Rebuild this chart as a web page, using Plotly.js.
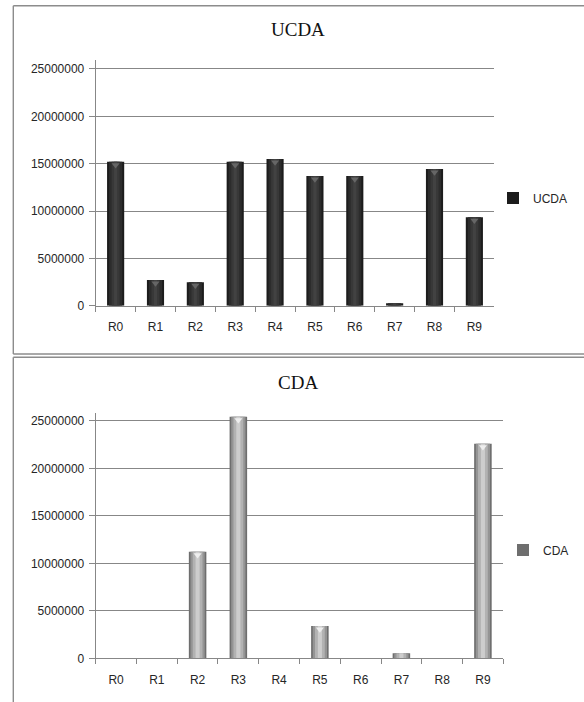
<!DOCTYPE html>
<html>
<head>
<meta charset="utf-8">
<script src="https://cdn.plot.ly/plotly-3.0.1.min.js"></script>
<style>
  html, body { margin: 0; padding: 0; background: #ffffff; }
  #chart { width: 584px; height: 702px; }
</style>
</head>
<body>
<div id="chart"></div>
<script>
// Runs R0..R9
const categories = ["R0", "R1", "R2", "R3", "R4", "R5", "R6", "R7", "R8", "R9"];
const ucdaValues = [15200000, 2710000, 2470000, 15200000, 15500000, 13700000, 13700000, 250000, 14440000, 9330000];
const cdaValues = [0, 0, 11230000, 25450000, 0, 3400000, 0, 530000, 0, 22600000];
const yTickValues = [0, 5000000, 10000000, 15000000, 20000000, 25000000];

const W = 584, H = 702;
const px = v => v / W;          // horizontal pixel -> paper
const py = v => 1 - v / H;      // vertical pixel -> paper

const gridGray = "#878787";
const sansFont = "Liberation Sans, Arial, sans-serif";
const serifFont = "Liberation Serif, Times New Roman, serif";

// plot-area geometry (pixels) and y ranges
const topArea = { left: 95.7, right: 494.3, bottom: 305.7, top: 60, ymax: 25950000 };
const botArea = { left: 95.7, right: 503.3, bottom: 658.3, top: 412.7, ymax: 25870000 };

// Cylinder-like shading: a wide base bar with narrower, lighter bars on top.
function shadedBars(name, values, xa, ya, legendId, shades) {
  return shades.map((s, i) => ({
    type: "bar",
    name: name,
    x: categories,
    y: values,
    xaxis: xa,
    yaxis: ya,
    width: s.width,
    marker: { color: s.color, line: { width: 0 } },
    showlegend: i === 0,
    legend: legendId,
    hoverinfo: "skip"
  }));
}

// Small bevel triangle just inside the top of each bar.
function bevelCaps(values, xa, ya, area, color) {
  const unitsPerPx = area.ymax / (area.bottom - area.top);
  const shown = values.map(v => v > 1000000);
  return {
    type: "scatter",
    mode: "markers",
    x: categories.filter((c, i) => shown[i]),
    y: values.filter((v, i) => shown[i]).map(v => v - 3.2 * unitsPerPx),
    xaxis: xa,
    yaxis: ya,
    marker: { symbol: "triangle-down", size: 7, color: color, line: { width: 0 } },
    showlegend: false,
    hoverinfo: "skip"
  };
}

const ucdaShades = [
  { width: 0.43, color: "#1c1c1c" },
  { width: 0.33, color: "#2c2c2c" },
  { width: 0.20, color: "#383838" },
  { width: 0.08, color: "#424242" }
];
const cdaShades = [
  { width: 0.43, color: "#6e6e6e" },
  { width: 0.35, color: "#949494" },
  { width: 0.24, color: "#b2b2b2" },
  { width: 0.10, color: "#cdcdcd" }
];

const traces = [
  ...shadedBars("UCDA", ucdaValues, "x", "y", "legend", ucdaShades),
  bevelCaps(ucdaValues, "x", "y", topArea, "#666666"),
  ...shadedBars("CDA", cdaValues, "x2", "y2", "legend2", cdaShades),
  bevelCaps(cdaValues, "x2", "y2", botArea, "#eeeeee")
];

function xAxis(area, anchor) {
  return {
    domain: [px(area.left), px(area.right)],
    anchor: anchor,
    type: "category",
    range: [-0.5, categories.length - 0.5],
    autorange: false,
    showline: true,
    linecolor: gridGray,
    linewidth: 1,
    showgrid: false,
    ticks: "outside",
    tickson: "boundaries",
    ticklen: 5,
    tickcolor: gridGray,
    tickwidth: 1,
    ticklabelstandoff: 10,
    tickfont: { family: sansFont, size: 12, color: "#262626" },
    fixedrange: true
  };
}

function yAxis(area, anchor) {
  return {
    domain: [py(area.bottom), py(area.top)],
    anchor: anchor,
    range: [0, area.ymax],
    autorange: false,
    tickmode: "array",
    tickvals: yTickValues,
    tickformat: "d",
    showline: true,
    linecolor: gridGray,
    linewidth: 1,
    showgrid: true,
    gridcolor: gridGray,
    gridwidth: 1,
    zeroline: false,
    ticks: "outside",
    ticklen: 6,
    tickcolor: gridGray,
    tickwidth: 1,
    ticklabelstandoff: 2,
    tickfont: { family: sansFont, size: 12, color: "#262626" },
    fixedrange: true
  };
}

const frameLine = { color: "#8c8c8c", width: 1.4 };

const layout = {
  width: W,
  height: H,
  margin: { l: 0, r: 0, t: 0, b: 0 },
  paper_bgcolor: "#ffffff",
  plot_bgcolor: "rgba(0,0,0,0)",
  barmode: "overlay",
  xaxis: xAxis(topArea, "y"),
  yaxis: yAxis(topArea, "x"),
  xaxis2: xAxis(botArea, "y2"),
  yaxis2: yAxis(botArea, "x2"),
  legend: {
    x: px(493), y: py(198), xanchor: "left", yanchor: "middle",
    bgcolor: "rgba(0,0,0,0)",
    font: { family: sansFont, size: 12, color: "#262626" }
  },
  legend2: {
    x: px(503), y: py(550), xanchor: "left", yanchor: "middle",
    bgcolor: "rgba(0,0,0,0)",
    font: { family: sansFont, size: 12, color: "#262626" }
  },
  annotations: [
    {
      text: "UCDA", xref: "paper", yref: "paper",
      x: px(298), y: py(30), xanchor: "center", yanchor: "middle",
      showarrow: false,
      font: { family: serifFont, size: 19, color: "#111111" }
    },
    {
      text: "CDA", xref: "paper", yref: "paper",
      x: px(298), y: py(382), xanchor: "center", yanchor: "middle",
      showarrow: false,
      font: { family: serifFont, size: 19, color: "#111111" }
    }
  ],
  shapes: [
    // frame around the UCDA chart
    { type: "line", xref: "paper", yref: "paper", x0: px(13.3), x1: px(600), y0: py(5.7), y1: py(5.7), line: frameLine },
    { type: "line", xref: "paper", yref: "paper", x0: px(13.3), x1: px(600), y0: py(354), y1: py(354), line: frameLine },
    { type: "line", xref: "paper", yref: "paper", x0: px(13.3), x1: px(13.3), y0: py(5.7), y1: py(354), line: frameLine },
    // frame around the CDA chart
    { type: "line", xref: "paper", yref: "paper", x0: px(13.3), x1: px(600), y0: py(357.3), y1: py(357.3), line: frameLine },
    { type: "line", xref: "paper", yref: "paper", x0: px(13.3), x1: px(13.3), y0: py(357.3), y1: py(710), line: frameLine }
  ]
};

Plotly.newPlot("chart", traces, layout, { staticPlot: true, displayModeBar: false });
</script>
</body>
</html>
